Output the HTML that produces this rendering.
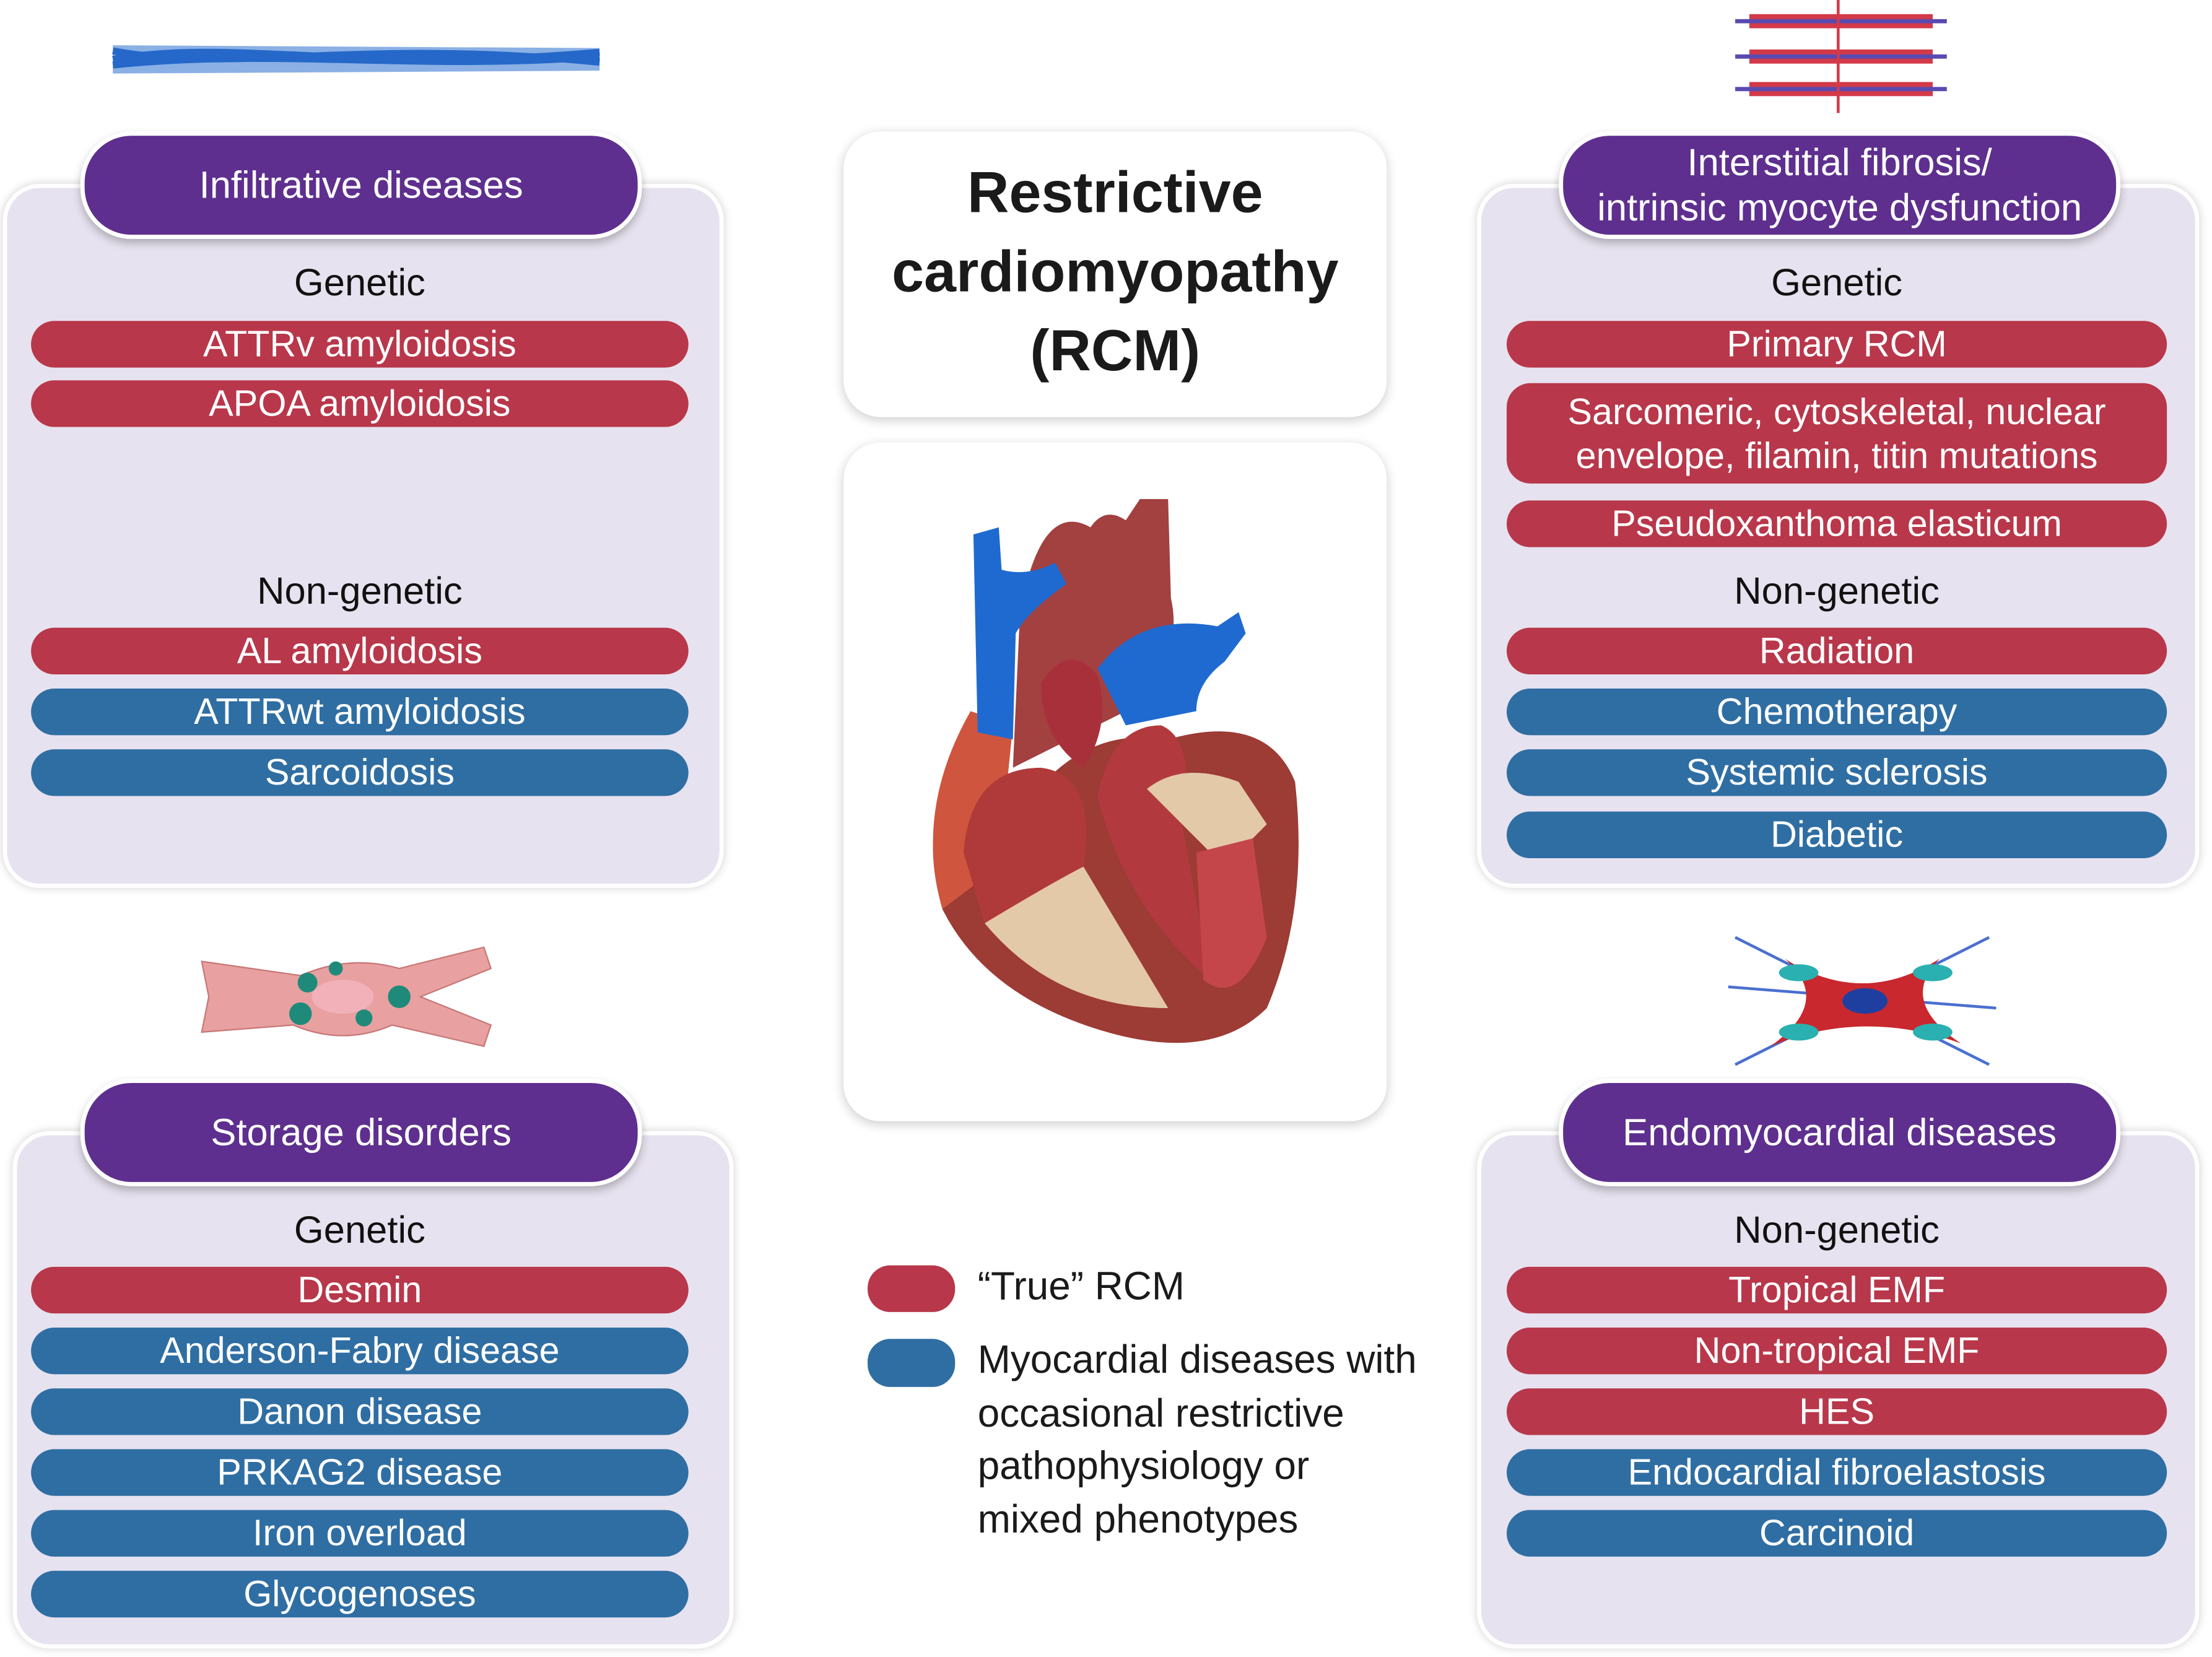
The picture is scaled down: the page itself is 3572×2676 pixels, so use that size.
<!DOCTYPE html>
<html><head><meta charset="utf-8">
<style>
html,body{margin:0;padding:0;background:#fff;width:3572px;height:2676px;overflow:hidden}
#s{position:absolute;left:0;top:0;width:1568px;height:1172px;transform:scale(2.2781,2.2833);transform-origin:0 0;font-family:"Liberation Sans",sans-serif}
.box{position:absolute;background:#e7e2ef;border:3px solid #fff;border-radius:26px;box-shadow:0 0 6px rgba(0,0,0,.18)}
.hd{position:absolute;background:#5e2f8e;border:3px solid #fff;border-radius:36px;color:#fff;text-align:center;font-size:27px;box-shadow:0 3px 6px rgba(0,0,0,.25);display:flex;align-items:center;justify-content:center;line-height:32px}
.lb{position:absolute;width:420px;text-align:center;font-size:27px;color:#111;line-height:32px}
.b{position:absolute;height:33px;border-radius:17px;color:#fff;text-align:center;font-size:26px;line-height:33px}
.r{background:#b8374a}.u{background:#2f6ea3}
.L .b{left:22px;width:466px}.R .b{left:1068px;width:468px}
.wc{position:absolute;background:#fff;border-radius:26px;box-shadow:0 2px 8px rgba(0,0,0,.2)}
</style></head><body><div id="s">
<svg style="position:absolute;left:75px;top:22px" width="355" height="40"><g stroke="#1f5fc0" stroke-width="5" fill="none"><path d="M5 20 C90 5 180 30 350 15"/><path d="M5 14 C90 30 180 5 350 22"/><path d="M5 24 C120 12 220 28 350 18"/></g><path d="M5 10 L350 12 L350 28 L5 30Z" fill="#2a6fd0" opacity=".55"/></svg>
<svg style="position:absolute;left:1225px;top:0px" width="160" height="80"><g fill="#d23a4a"><rect x="15" y="10" width="130" height="10"/><rect x="15" y="35" width="130" height="10"/><rect x="15" y="58" width="130" height="10"/></g><g stroke="#5a4ab0" stroke-width="3" fill="none"><path d="M5 15H155M5 40H155M5 63H155"/></g><path d="M78 0V80" stroke="#d23a4a" stroke-width="2"/></svg>
<svg style="position:absolute;left:138px;top:665px" width="215" height="80"><path d="M5 15 L75 25 Q110 10 145 20 L205 5 L210 20 L160 40 L210 60 L205 75 L140 60 Q105 75 70 60 L5 65 L10 40 Z" fill="#e9a0a0" stroke="#c87878"/><ellipse cx="105" cy="40" rx="22" ry="12" fill="#f2b0b8"/><g fill="#1f8a7a"><circle cx="80" cy="30" r="7"/><circle cx="75" cy="52" r="8"/><circle cx="145" cy="40" r="8"/><circle cx="120" cy="55" r="6"/><circle cx="100" cy="20" r="5"/></g></svg>
<svg style="position:absolute;left:1225px;top:658px" width="190" height="100"><g stroke="#4a6fd0" stroke-width="2"><path d="M5 5 L185 95M185 5 L5 95M0 40 L190 55"/></g><path d="M40 20 Q95 55 150 20 Q120 50 165 80 Q95 55 30 82 Q75 50 40 20Z" fill="#c8282e"/><g fill="#2ab0b0"><ellipse cx="50" cy="30" rx="14" ry="6"/><ellipse cx="145" cy="30" rx="14" ry="6"/><ellipse cx="50" cy="72" rx="14" ry="6"/><ellipse cx="145" cy="72" rx="14" ry="6"/></g><ellipse cx="97" cy="50" rx="16" ry="9" fill="#1f3fa0"/></svg>

<div class="L">
<div class="box" style="left:2px;top:130px;width:505px;height:492px"></div>
<div class="hd" style="left:57px;top:93px;width:392px;height:70px">Infiltrative diseases</div>
<div class="lb" style="left:45px;top:184px">Genetic</div>
<div class="b r" style="top:227px">ATTRv amyloidosis</div>
<div class="b r" style="top:269px">APOA amyloidosis</div>
<div class="lb" style="left:45px;top:402px">Non-genetic</div>
<div class="b r" style="top:444px">AL amyloidosis</div>
<div class="b u" style="top:487px">ATTRwt amyloidosis</div>
<div class="b u" style="top:530px">Sarcoidosis</div>
</div>
<div class="L">
<div class="box" style="left:9px;top:800px;width:505px;height:360px"></div>
<div class="hd" style="left:57px;top:763px;width:392px;height:70px">Storage disorders</div>
<div class="lb" style="left:45px;top:854px">Genetic</div>
<div class="b r" style="top:896px">Desmin</div>
<div class="b u" style="top:939px">Anderson-Fabry disease</div>
<div class="b u" style="top:982px">Danon disease</div>
<div class="b u" style="top:1025px">PRKAG2 disease</div>
<div class="b u" style="top:1068px">Iron overload</div>
<div class="b u" style="top:1111px">Glycogenoses</div>
</div>
<div class="R">
<div class="box" style="left:1047px;top:130px;width:506px;height:492px"></div>
<div class="hd" style="left:1105px;top:93px;width:392px;height:70px">Interstitial fibrosis/<br>intrinsic myocyte dysfunction</div>
<div class="lb" style="left:1092px;top:184px">Genetic</div>
<div class="b r" style="top:227px">Primary RCM</div>
<div class="b r" style="top:271px;height:71px;line-height:31px;padding-top:5px;box-sizing:border-box">Sarcomeric, cytoskeletal, nuclear<br>envelope, filamin, titin mutations</div>
<div class="b r" style="top:354px">Pseudoxanthoma elasticum</div>
<div class="lb" style="left:1092px;top:402px">Non-genetic</div>
<div class="b r" style="top:444px">Radiation</div>
<div class="b u" style="top:487px">Chemotherapy</div>
<div class="b u" style="top:530px">Systemic sclerosis</div>
<div class="b u" style="top:574px">Diabetic</div>
</div>
<div class="R">
<div class="box" style="left:1047px;top:800px;width:506px;height:360px"></div>
<div class="hd" style="left:1105px;top:763px;width:392px;height:70px">Endomyocardial diseases</div>
<div class="lb" style="left:1092px;top:854px">Non-genetic</div>
<div class="b r" style="top:896px">Tropical EMF</div>
<div class="b r" style="top:939px">Non-tropical EMF</div>
<div class="b r" style="top:982px">HES</div>
<div class="b u" style="top:1025px">Endocardial fibroelastosis</div>
<div class="b u" style="top:1068px">Carcinoid</div>
</div>

<div class="wc" style="left:598px;top:93px;width:385px;height:202px"></div>
<div style="position:absolute;left:598px;top:108px;width:385px;text-align:center;font-weight:bold;font-size:41px;line-height:56px;color:#1a1a1a">Restrictive<br>cardiomyopathy<br>(RCM)</div>
<div class="wc" style="left:598px;top:313px;width:385px;height:480px"></div>
<svg style="position:absolute;left:598px;top:313px" width="385" height="480">
<path d="M130 255 Q170 200 230 210 Q300 190 320 240 Q330 330 300 400 Q260 440 180 415 Q100 390 70 330 Q50 260 90 220 Z" fill="#9d3b35"/>
<path d="M70 330 Q50 260 90 190 L120 200 L110 300 Z" fill="#d0553e"/>
<path d="M125 120 Q140 40 175 60 Q185 45 200 55 L210 40 L230 40 L232 110 Q240 145 215 170 L200 190 L120 230 Z" fill="#a34040"/>
<path d="M92 65 L110 60 L112 90 Q130 95 150 85 L158 100 Q130 120 122 135 L120 210 L95 205 Z" fill="#1f6ad0"/>
<path d="M180 160 Q210 120 265 130 L280 120 L285 135 L270 155 Q250 170 250 190 L200 200 Z" fill="#1f6ad0"/>
<path d="M85 290 Q90 230 140 230 Q180 235 170 300 Q150 330 100 340 Z" fill="#b03a3a"/>
<path d="M100 340 Q150 310 170 300 L230 400 Q150 400 100 340Z" fill="#e3c9a8"/>
<path d="M140 170 Q160 140 180 165 Q190 200 170 230 Q140 210 140 170Z" fill="#a8303a"/>
<path d="M180 250 Q190 200 225 200 Q250 210 240 270 L260 380 Q200 330 180 250Z" fill="#b23a3e"/>
<path d="M215 245 Q240 225 280 240 L300 270 L270 300 Z" fill="#e3c9a8"/>
<path d="M250 290 L290 280 L300 350 Q280 400 255 380 Z" fill="#c4464a"/>
</svg>

<div style="position:absolute;left:615px;top:895px;width:62px;height:33px;border-radius:16px;background:#b8374a"></div>
<div style="position:absolute;left:615px;top:947px;width:62px;height:34px;border-radius:16px;background:#2f6ea3"></div>
<div style="position:absolute;left:693px;top:893px;font-size:28px;line-height:34px;color:#1a1a1a">“True” RCM</div>
<div style="position:absolute;left:693px;top:943px;font-size:28px;line-height:37.7px;color:#1a1a1a">Myocardial diseases with<br>occasional restrictive<br>pathophysiology or<br>mixed phenotypes</div>
</div></body></html>
